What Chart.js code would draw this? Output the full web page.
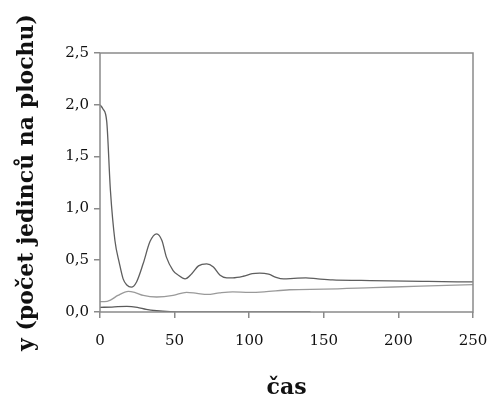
<!DOCTYPE html>
<html><head><meta charset="utf-8">
<script src="https://cdn.jsdelivr.net/npm/chart.js@4/dist/chart.umd.min.js"></script>
<style>html,body{margin:0;padding:0;background:#fff}#w{width:492px;height:394px}</style>
</head><body><div id="w"><canvas id="c"></canvas></div>
<script>
const xTicks = [0, 50, 100, 150, 200, 250];
const yTicks = [0, 0.5, 1.0, 1.5, 2.0, 2.5];

const topTime = [0, 2, 4.5, 7, 10, 13, 15.5, 18, 21, 24.5, 29, 33.5, 38, 41.5, 44.5, 49, 52.5, 57, 61.5, 66, 71.5, 76, 80.5, 85, 89, 96, 102, 107, 113, 118, 123, 130, 138, 146, 156, 175, 194, 220, 250];
const topValues = [2.00, 1.96, 1.84, 1.17, 0.69, 0.47, 0.32, 0.26, 0.24, 0.29, 0.47, 0.68, 0.755, 0.69, 0.53, 0.40, 0.355, 0.32, 0.37, 0.445, 0.465, 0.435, 0.355, 0.33, 0.33, 0.345, 0.37, 0.375, 0.365, 0.335, 0.32, 0.325, 0.33, 0.32, 0.31, 0.305, 0.30, 0.295, 0.29];

const midTime = [0, 3, 7, 12, 19, 24, 29, 38, 49, 58, 65, 72, 80, 89, 100, 110, 127, 150, 183, 215, 250];
const midValues = [0.10, 0.10, 0.115, 0.16, 0.20, 0.185, 0.16, 0.145, 0.16, 0.19, 0.18, 0.17, 0.185, 0.195, 0.19, 0.195, 0.215, 0.22, 0.235, 0.25, 0.265];

const lowTime = [0, 8, 18, 25, 31, 38, 47, 55, 80, 110, 141];
const lowValues = [0.045, 0.048, 0.055, 0.045, 0.025, 0.012, 0.003, 0, 0, 0, 0];

const pts = (t, v) => t.map((x, i) => ({x: x, y: v[i]}));
const FONT = "'DejaVu Serif', serif";

const frame = {
  id: 'frame',
  afterDatasetsDraw(chart) {
    const a = chart.chartArea, ctx = chart.ctx;
    ctx.save();
    ctx.strokeStyle = '#8a8a8a';
    ctx.lineWidth = 1.5;
    ctx.strokeRect(a.left, a.top, a.right - a.left, a.bottom - a.top);
    ctx.restore();
  }
};

const ds = (data, color) => ({
  data: data, borderColor: color, borderWidth: 1.3, pointRadius: 0,
  fill: false, cubicInterpolationMode: 'monotone'
});

new Chart(document.getElementById('c'), {
  type: 'line',
  data: { datasets: [
    ds(pts(topTime, topValues), '#5e5e5e'),
    ds(pts(midTime, midValues), '#9a9a9a'),
    ds(pts(lowTime, lowValues), '#5a5a5a')
  ]},
  options: {
    responsive: true, maintainAspectRatio: false, animation: false,
    layout: { padding: { top: 53, right: 19, left: 0, bottom: 0 } },
    plugins: { legend: { display: false }, tooltip: { enabled: false } },
    scales: {
      x: {
        type: 'linear', min: 0, max: 250,
        afterBuildTicks: s => { s.ticks = xTicks.map(v => ({value: v})); },
        afterFit: s => { s.height = 82; s.paddingRight = 0; s.paddingLeft = 0; },
        grid: { drawOnChartArea: false, color: '#8a8a8a', tickLength: 6, lineWidth: 1.5 },
        border: { display: false },
        ticks: { color: '#111', font: { family: FONT, size: 15 }, padding: 14, maxRotation: 0 },
        title: { display: true, text: 'čas', color: '#111', font: { family: FONT, size: 22, weight: 'bold' }, padding: { top: 20, bottom: -7 } }
      },
      y: {
        min: 0, max: 2.5,
        afterBuildTicks: s => { s.ticks = yTicks.map(v => ({value: v})); },
        afterFit: s => { s.width = 100; s.paddingTop = 0; s.paddingBottom = 0; },
        grid: { drawOnChartArea: false, color: '#8a8a8a', tickLength: 6, lineWidth: 1.5 },
        border: { display: false },
        ticks: { color: '#111', font: { family: FONT, size: 15 }, padding: 5,
          callback: v => v.toFixed(1).replace('.', ',') },
        title: { display: true, text: 'y (počet jedinců na plochu)', color: '#111', font: { family: FONT, size: 22, weight: 'bold' }, padding: { top: 14, bottom: 4 } }
      }
    }
  },
  plugins: [frame]
});
</script></body></html>
